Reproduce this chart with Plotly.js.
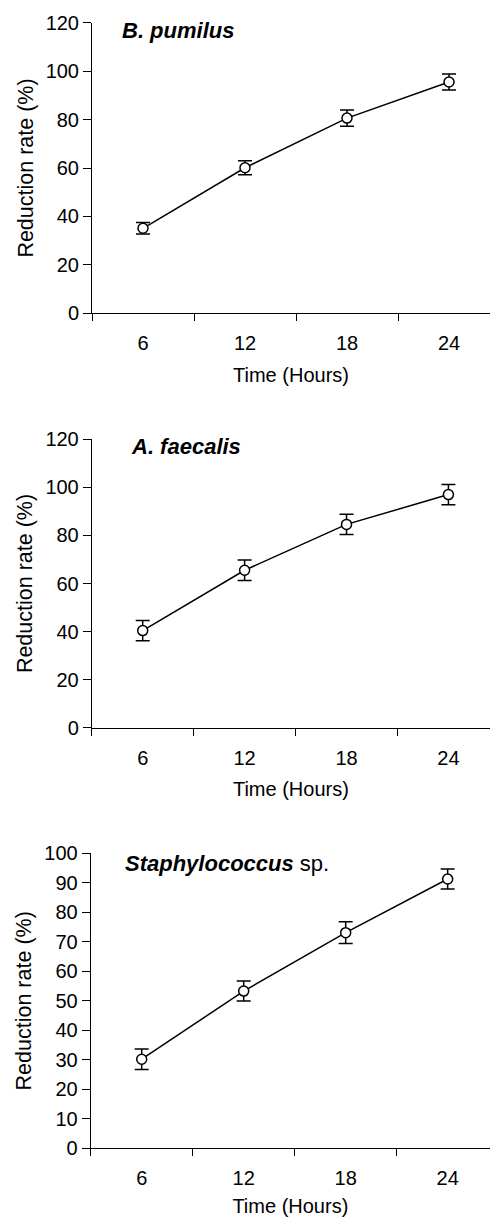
<!DOCTYPE html>
<html>
<head>
<meta charset="utf-8">
<script src="https://cdn.plot.ly/plotly-3.0.1.min.js"></script>
<style>html,body{margin:0;padding:0;background:#fff;}</style>
</head>
<body>
<div id="chart" style="width:490px;height:1217px;"></div>
<script>
// Data
var hours = ["6", "12", "18", "24"];
var bPumilus = [35.1, 60.1, 80.6, 95.5];
var bPumilusErr = [2.4, 2.9, 3.4, 3.3];
var aFaecalis = [40.4, 65.5, 84.6, 97.0];
var aFaecalisErr = [4.2, 4.3, 4.2, 4.2];
var staph = [30.2, 53.3, 73.1, 91.3];
var staphErr = [3.5, 3.4, 3.7, 3.4];

var FONT = "Liberation Sans, Arial, sans-serif";
var H = 1217, W = 490;

function trace(y, err, xa, ya) {
  return {
    x: hours, y: y, xaxis: xa, yaxis: ya,
    type: "scatter", mode: "lines+markers",
    line: {color: "#000", width: 1.5},
    marker: {symbol: "circle", size: 10, color: "#fff", line: {color: "#000", width: 1.5}},
    error_y: {type: "data", array: err, visible: true, color: "#000", thickness: 1.5, width: 7},
    showlegend: false, hoverinfo: "skip"
  };
}

function py(p) { return 1 - p / H; }

function xAxis(left, right, anchor) {
  return {
    type: "category", domain: [left / W, 1], range: [-0.5, right], anchor: anchor,
    showline: true, linecolor: "#000", linewidth: 1, showgrid: false, zeroline: false,
    ticks: "outside", tickson: "boundaries", ticklen: 7, tickcolor: "#000", tickwidth: 1,
    ticklabelstandoff: 12,
    tickfont: {family: FONT, size: 20, color: "#000"},
    title: {text: "Time (Hours)", font: {family: FONT, size: 20, color: "#000"}, standoff: 14}
  };
}
function yAxis(bottom, top, rmax, dtick, anchor) {
  return {
    domain: [py(bottom), py(top)], range: [0, rmax], anchor: anchor,
    showline: true, linecolor: "#000", linewidth: 1, showgrid: false, zeroline: false,
    ticks: "outside", ticklen: 8, tickcolor: "#000", tickwidth: 1, dtick: dtick, tick0: 0,
    tickfont: {family: FONT, size: 20, color: "#000"},
    title: {text: "Reduction rate (%)", font: {family: FONT, size: 21.5, color: "#000"}, standoff: 6}
  };
}

var data = [
  trace(bPumilus, bPumilusErr, "x", "y"),
  trace(aFaecalis, aFaecalisErr, "x2", "y2"),
  trace(staph, staphErr, "x3", "y3")
];

var layout = {
  width: W, height: H,
  margin: {l: 0, r: 0, t: 0, b: 0},
  paper_bgcolor: "#fff", plot_bgcolor: "#fff",
  font: {family: FONT, color: "#000"},
  xaxis: xAxis(92, 3.402, "y"),
  yaxis: yAxis(313.3, 22.7, 120, 20, "x"),
  xaxis2: xAxis(91.75, 3.408, "y2"),
  yaxis2: yAxis(727.7, 439.3, 120, 20, "x2"),
  xaxis3: xAxis(90.7, 3.415, "y3"),
  yaxis3: yAxis(1148.3, 853.3, 100, 10, "x3"),
  annotations: [
    {xref: "paper", yref: "paper", x: 120 / W, y: py(30), xanchor: "left", yanchor: "middle",
     text: "<b><i>B. pumilus</i></b>", showarrow: false, font: {family: FONT, size: 22, color: "#000"}},
    {xref: "paper", yref: "paper", x: 129 / W, y: py(446.7), xanchor: "left", yanchor: "middle",
     text: "<b><i>A. faecalis</i></b>", showarrow: false, font: {family: FONT, size: 22, color: "#000"}},
    {xref: "paper", yref: "paper", x: 123 / W, y: py(863), xanchor: "left", yanchor: "middle",
     text: "<b><i>Staphylococcus</i></b> sp.", showarrow: false, font: {family: FONT, size: 22, color: "#000"}}
  ]
};

Plotly.newPlot("chart", data, layout, {displayModeBar: false, staticPlot: true});
</script>
</body>
</html>
